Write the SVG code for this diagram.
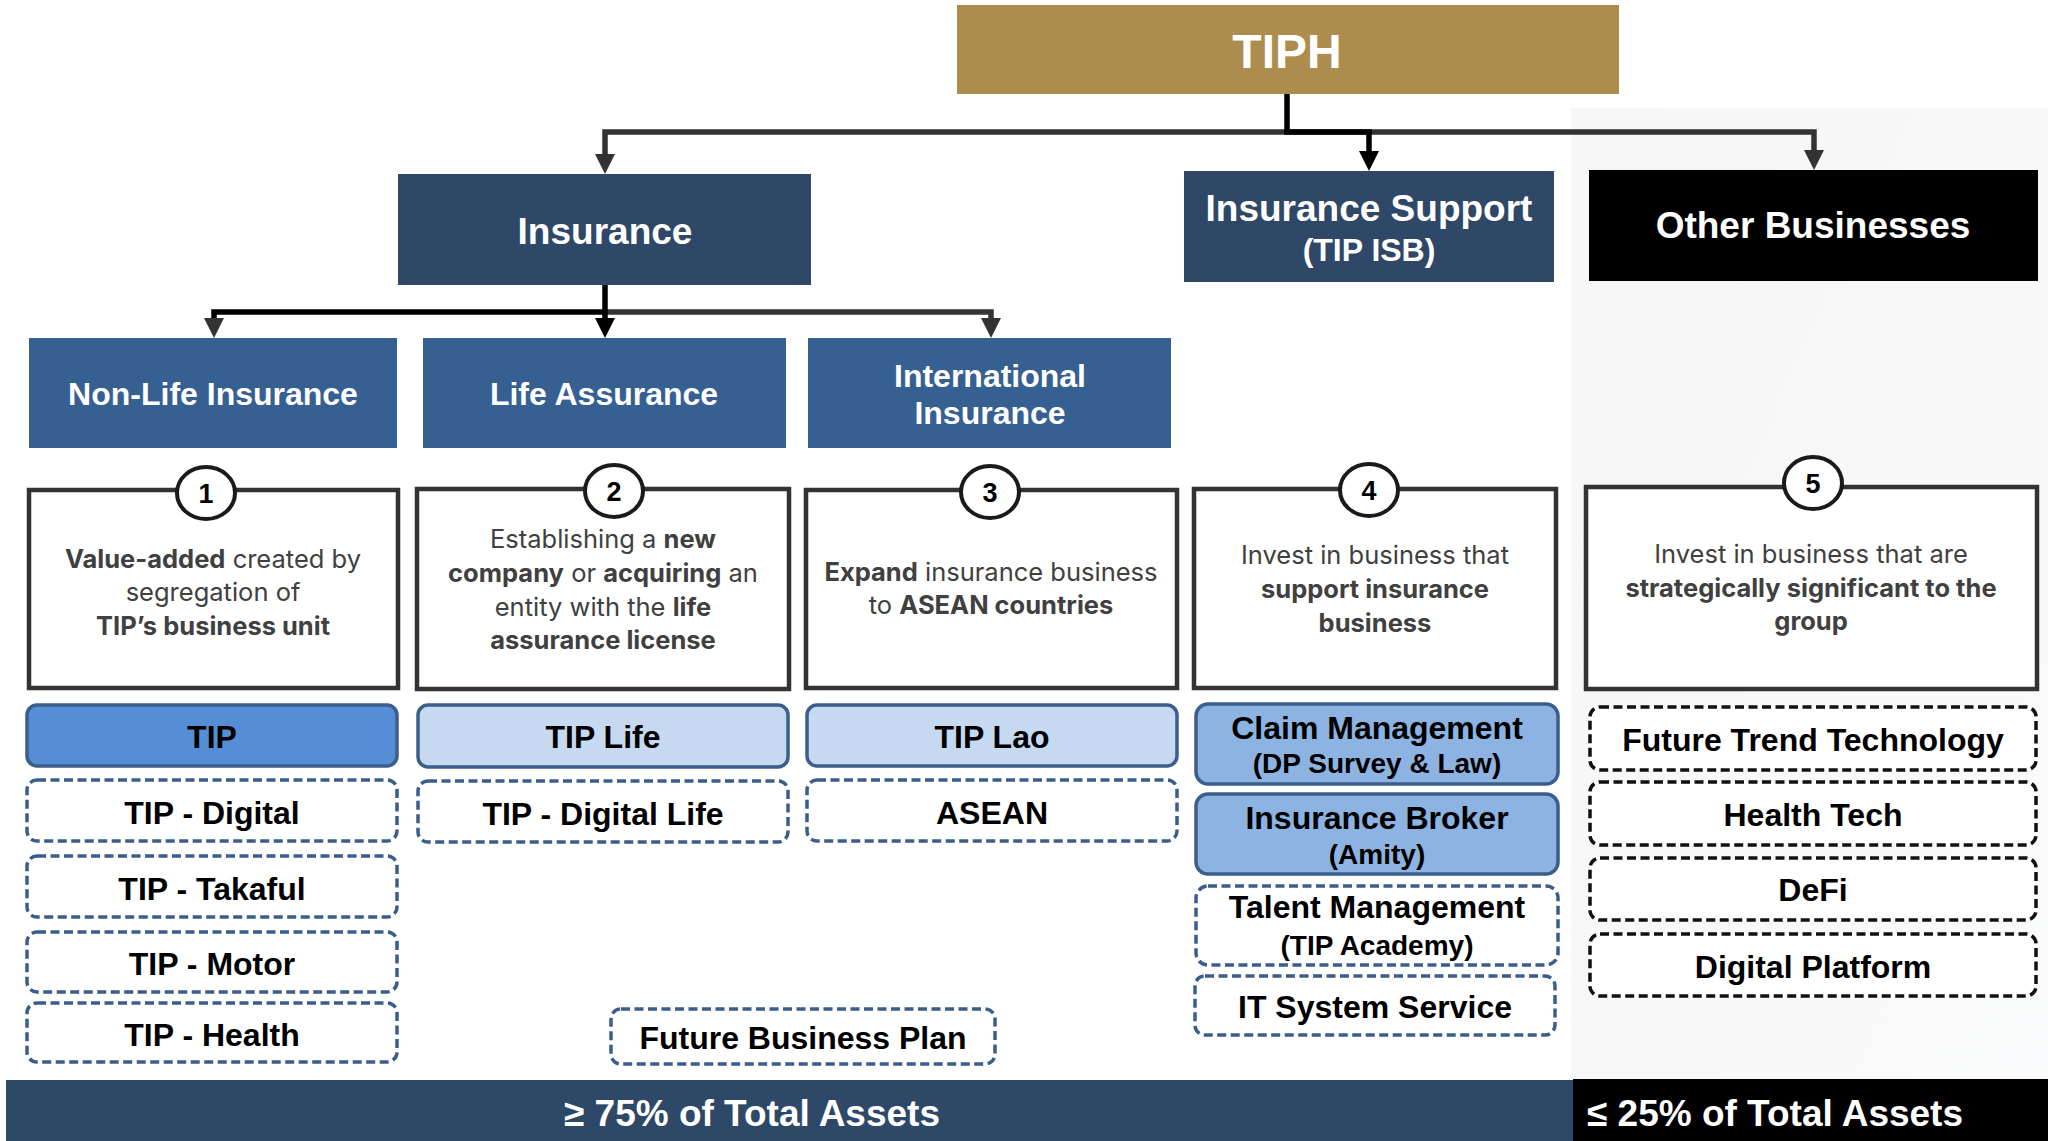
<svg xmlns="http://www.w3.org/2000/svg" width="2048" height="1141" viewBox="0 0 2048 1141">
  <defs>
    <linearGradient id="sideBg" x1="0" y1="0" x2="1" y2="1">
      <stop offset="0" stop-color="#f6f6f6"/>
      <stop offset="1" stop-color="#f9fafb"/>
    </linearGradient>
    <marker id="arrowDark" viewBox="0 0 10 10" refX="5" refY="5" markerUnits="userSpaceOnUse" markerWidth="20" markerHeight="20" orient="auto-start-reverse">
      <path d="M0,0 L10,5 L0,10 z" fill="#333333"/>
    </marker>
    <marker id="arrowBlack" viewBox="0 0 10 10" refX="5" refY="5" markerUnits="userSpaceOnUse" markerWidth="20" markerHeight="20" orient="auto-start-reverse">
      <path d="M0,0 L10,5 L0,10 z" fill="#000000"/>
    </marker>
  </defs>
  <style>
    .hdr { font-family: "Liberation Sans", Arial, sans-serif; font-weight: bold; fill: #ffffff; text-anchor: middle; }
    .desc { font-family: "Inter", "Liberation Sans", Arial, sans-serif; font-size: 25.5px; fill: #404040; text-anchor: middle; }
    .desc tspan.b { font-weight: 700; }
    .num { font-family: "Liberation Sans", Arial, sans-serif; font-weight: bold; font-size: 27px; fill: #000; text-anchor: middle; }
    .item { font-family: "Liberation Sans", Arial, sans-serif; font-weight: bold; font-size: 32px; fill: #000; text-anchor: middle; }
    .sub { font-size: 28px; }
    .descBox { fill: #ffffff; stroke: #333333; stroke-width: 4.5; }
    .badge { fill: #ffffff; stroke: #1a1a1a; stroke-width: 4; }
    .solidDark { fill: #558ed5; stroke: #3b5e8c; stroke-width: 3.5; }
    .solidLight { fill: #c6d9f1; stroke: #3b5e8c; stroke-width: 3.5; }
    .solidMid { fill: #8db3e2; stroke: #3b5e8c; stroke-width: 3.5; }
    .dashBlue { fill: #ffffff; stroke: #3a5d8c; stroke-width: 3.5; stroke-dasharray: 9 4.5; }
    .dashBlack { fill: #ffffff; stroke: #111111; stroke-width: 3.5; stroke-dasharray: 9 4.5; }
    .lineDark { fill: none; stroke: #333333; stroke-width: 5.5; }
    .lineBlack { fill: none; stroke: #000000; stroke-width: 5.5; }
    .band { font-family: "Liberation Sans", Arial, sans-serif; font-weight: bold; font-size: 37px; fill: #ffffff; }
  </style>

  <!-- page background -->
  <rect x="0" y="0" width="2048" height="1141" fill="#ffffff"/>
  <rect x="1571" y="108" width="477" height="1033" fill="url(#sideBg)"/>

  <!-- connectors -->
  <g id="connectors">
    <path class="lineDark" d="M605,164 V132 H1814 V160" marker-start="url(#arrowDark)" marker-end="url(#arrowDark)"/>
    <path class="lineBlack" d="M1287,93 V132 H1369 V161" marker-end="url(#arrowBlack)"/>
    <path class="lineDark" d="M605,312 H991 V328" marker-end="url(#arrowDark)"/>
    <path class="lineBlack" d="M605,312 H214 V328" marker-end="url(#arrowDark)"/>
    <path class="lineBlack" d="M605,285 V328" marker-end="url(#arrowBlack)"/>
  </g>

  <!-- top level -->
  <g id="tiph">
    <rect x="957" y="5" width="662" height="89" fill="#ad8d4e"/>
    <text class="hdr" x="1287" y="68" font-size="48">TIPH</text>
  </g>

  <!-- second level -->
  <g id="insurance">
    <rect x="398" y="174" width="413" height="111" fill="#2f4868"/>
    <text class="hdr" x="605" y="244" font-size="37">Insurance</text>
  </g>
  <g id="insurance-support">
    <rect x="1184" y="171" width="370" height="111" fill="#2f4868"/>
    <text class="hdr" x="1369" y="221" font-size="37">Insurance Support</text>
    <text class="hdr" x="1369" y="261" font-size="32">(TIP ISB)</text>
  </g>
  <g id="other-businesses">
    <rect x="1589" y="170" width="449" height="111" fill="#000000"/>
    <text class="hdr" x="1813" y="238" font-size="37">Other Businesses</text>
  </g>

  <!-- insurance branches -->
  <g id="non-life">
    <rect x="29" y="338" width="368" height="110" fill="#376092"/>
    <text class="hdr" x="213" y="405" font-size="32">Non-Life Insurance</text>
  </g>
  <g id="life-assurance">
    <rect x="423" y="338" width="363" height="110" fill="#376092"/>
    <text class="hdr" x="604" y="405" font-size="32">Life Assurance</text>
  </g>
  <g id="international">
    <rect x="808" y="338" width="363" height="110" fill="#376092"/>
    <text class="hdr" x="990" y="387" font-size="32">International</text>
    <text class="hdr" x="990" y="424" font-size="32">Insurance</text>
  </g>

  <!-- strategy boxes -->
  <g id="strategy-1">
    <rect class="descBox" x="29" y="490" width="369" height="198"/>
    <ellipse class="badge" cx="206" cy="493" rx="29" ry="26"/>
    <text class="num" x="206" y="503">1</text>
    <text class="desc" x="213" y="568"><tspan class="b">Value-added</tspan> created by</text>
    <text class="desc" x="213" y="601">segregation of</text>
    <text class="desc" x="213" y="635"><tspan class="b">TIP’s business unit</tspan></text>
  </g>
  <g id="strategy-2">
    <rect class="descBox" x="417" y="489" width="372" height="200"/>
    <ellipse class="badge" cx="614" cy="491" rx="29" ry="26"/>
    <text class="num" x="614" y="501">2</text>
    <text class="desc" x="603" y="548">Establishing a <tspan class="b">new</tspan></text>
    <text class="desc" x="603" y="582"><tspan class="b">company</tspan> or <tspan class="b">acquiring</tspan> an</text>
    <text class="desc" x="603" y="616">entity with the <tspan class="b">life</tspan></text>
    <text class="desc" x="603" y="649"><tspan class="b">assurance license</tspan></text>
  </g>
  <g id="strategy-3">
    <rect class="descBox" x="806" y="490" width="371" height="198"/>
    <ellipse class="badge" cx="990" cy="492" rx="29" ry="26"/>
    <text class="num" x="990" y="502">3</text>
    <text class="desc" x="991" y="581"><tspan class="b">Expand</tspan> insurance business</text>
    <text class="desc" x="991" y="614">to <tspan class="b">ASEAN countries</tspan></text>
  </g>
  <g id="strategy-4">
    <rect class="descBox" x="1194" y="489" width="362" height="199"/>
    <ellipse class="badge" cx="1369" cy="490" rx="29" ry="26"/>
    <text class="num" x="1369" y="500">4</text>
    <text class="desc" x="1375" y="564">Invest in business that</text>
    <text class="desc" x="1375" y="598"><tspan class="b">support insurance</tspan></text>
    <text class="desc" x="1375" y="632"><tspan class="b">business</tspan></text>
  </g>
  <g id="strategy-5">
    <rect class="descBox" x="1586" y="487" width="451" height="202"/>
    <ellipse class="badge" cx="1813" cy="483" rx="29" ry="26"/>
    <text class="num" x="1813" y="493">5</text>
    <text class="desc" x="1811" y="563">Invest in business that are</text>
    <text class="desc" x="1811" y="597"><tspan class="b">strategically significant to the</tspan></text>
    <text class="desc" x="1811" y="630"><tspan class="b">group</tspan></text>
  </g>

  <!-- non-life companies -->
  <g id="tip">
    <rect class="solidDark" x="27" y="705" width="370" height="61" rx="10"/>
    <text class="item" x="212" y="748">TIP</text>
  </g>
  <g id="tip-digital">
    <rect class="dashBlue" x="27" y="780" width="370" height="61" rx="10"/>
    <text class="item" x="212" y="824">TIP - Digital</text>
  </g>
  <g id="tip-takaful">
    <rect class="dashBlue" x="27" y="856" width="370" height="61" rx="10"/>
    <text class="item" x="212" y="900">TIP - Takaful</text>
  </g>
  <g id="tip-motor">
    <rect class="dashBlue" x="27" y="932" width="370" height="60" rx="10"/>
    <text class="item" x="212" y="975">TIP - Motor</text>
  </g>
  <g id="tip-health">
    <rect class="dashBlue" x="27" y="1003" width="370" height="59" rx="10"/>
    <text class="item" x="212" y="1046">TIP - Health</text>
  </g>

  <!-- life companies -->
  <g id="tip-life">
    <rect class="solidLight" x="418" y="705" width="370" height="62" rx="10"/>
    <text class="item" x="603" y="748">TIP Life</text>
  </g>
  <g id="tip-digital-life">
    <rect class="dashBlue" x="418" y="781" width="370" height="61" rx="10"/>
    <text class="item" x="603" y="825">TIP - Digital Life</text>
  </g>

  <!-- international companies -->
  <g id="tip-lao">
    <rect class="solidLight" x="807" y="705" width="370" height="61" rx="10"/>
    <text class="item" x="992" y="748">TIP Lao</text>
  </g>
  <g id="asean">
    <rect class="dashBlue" x="807" y="780" width="370" height="61" rx="10"/>
    <text class="item" x="992" y="824">ASEAN</text>
  </g>

  <g id="future-business-plan">
    <rect class="dashBlue" x="611" y="1009" width="384" height="55" rx="10"/>
    <text class="item" x="803" y="1049">Future Business Plan</text>
  </g>

  <!-- insurance support companies -->
  <g id="claim-management">
    <rect class="solidMid" x="1196" y="704" width="362" height="80" rx="12"/>
    <text class="item" x="1377" y="739">Claim Management</text>
    <text class="item sub" x="1377" y="773">(DP Survey &amp; Law)</text>
  </g>
  <g id="insurance-broker">
    <rect class="solidMid" x="1196" y="794" width="362" height="80" rx="12"/>
    <text class="item" x="1377" y="829">Insurance Broker</text>
    <text class="item sub" x="1377" y="864">(Amity)</text>
  </g>
  <g id="talent-management">
    <rect class="dashBlue" x="1196" y="886" width="362" height="79" rx="12"/>
    <text class="item" x="1377" y="918">Talent Management</text>
    <text class="item sub" x="1377" y="955">(TIP Academy)</text>
  </g>
  <g id="it-system-service">
    <rect class="dashBlue" x="1195" y="976" width="360" height="59" rx="10"/>
    <text class="item" x="1375" y="1018">IT System Service</text>
  </g>

  <!-- other businesses -->
  <g id="future-trend-technology">
    <rect class="dashBlack" x="1590" y="707" width="446" height="63" rx="10"/>
    <text class="item" x="1813" y="751">Future Trend Technology</text>
  </g>
  <g id="health-tech">
    <rect class="dashBlack" x="1590" y="782" width="446" height="63" rx="10"/>
    <text class="item" x="1813" y="826">Health Tech</text>
  </g>
  <g id="defi">
    <rect class="dashBlack" x="1590" y="858" width="446" height="62" rx="10"/>
    <text class="item" x="1813" y="901">DeFi</text>
  </g>
  <g id="digital-platform">
    <rect class="dashBlack" x="1590" y="934" width="446" height="62" rx="10"/>
    <text class="item" x="1813" y="978">Digital Platform</text>
  </g>

  <!-- asset allocation bands -->
  <g id="band-insurance">
    <rect x="6" y="1080" width="1567" height="61" fill="#2e4868"/>
    <text class="band" x="752" y="1126" text-anchor="middle">≥ 75% of Total Assets</text>
  </g>
  <g id="band-other">
    <rect x="1573" y="1079" width="475" height="62" fill="#000000"/>
    <text class="band" x="1587" y="1126">≤ 25% of Total Assets</text>
  </g>
</svg>
